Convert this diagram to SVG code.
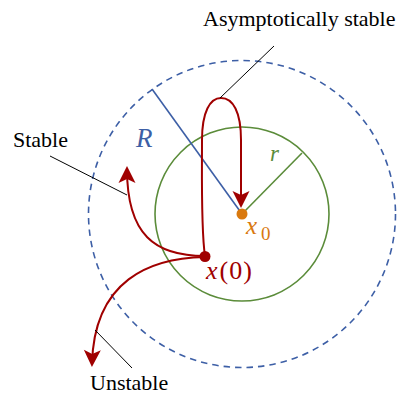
<svg xmlns="http://www.w3.org/2000/svg" width="405" height="394" viewBox="0 0 405 394">
<style>
.traj{fill:none;stroke:#a00000;stroke-width:2}
.lead{fill:none;stroke:#000;stroke-width:1}
.lbl{font-family:'Liberation Serif',serif;font-size:22px;fill:#000}
.m{font-family:'Liberation Serif',serif;font-style:italic}
.n{font-family:'Liberation Serif',serif;font-style:normal}
</style>
<defs>
<marker id="arr" markerUnits="userSpaceOnUse" markerWidth="40" markerHeight="40" refX="0" refY="0" orient="auto" overflow="visible">
<path d="M3,0 L-14,-8.5 L-10,0 L-14,8.5 Z" fill="#a00000"/>
</marker>
</defs>
<rect width="405" height="394" fill="#fff"/>
<g id="outer-ball">
<circle cx="242" cy="214" r="153.5" fill="none" stroke="#3d5fa6" stroke-width="1.6" stroke-dasharray="6.5 5"/>
</g>
<g id="inner-ball">
<circle cx="242" cy="214" r="87" fill="none" stroke="#5b8c3a" stroke-width="1.6"/>
</g>
<g id="connectors">
<line x1="152" y1="89" x2="242" y2="214" stroke="#3d5fa6" stroke-width="1.6"/>
<line x1="242" y1="214" x2="302" y2="153" stroke="#5b8c3a" stroke-width="1.6"/>
<path class="traj" d="M205,256 C201,230 202,180 202,140 C202,112 210,98 221,98 C233,98 241,112 241,140 L241,205" marker-end="url(#arr)"/>
<path class="traj" d="M205,256 C155,256 127,235 127,169" marker-end="url(#arr)"/>
<path class="traj" d="M205,257 C150,258 94,280 92,364" marker-end="url(#arr)"/>
<line class="lead" x1="220" y1="98" x2="274" y2="46"/>
<line class="lead" x1="50" y1="156" x2="127" y2="195"/>
<line class="lead" x1="95" y1="330" x2="132" y2="368"/>
</g>
<g id="x0">
<circle cx="242" cy="214" r="5.5" fill="#d9790f"/>
<text class="m" x="246" y="234" font-size="25" fill="#d9790f">x</text>
<text class="n" x="261" y="240" font-size="19" fill="#d9790f">0</text>
</g>
<g id="x-init">
<circle cx="205" cy="256.5" r="5.5" fill="#a00000"/>
<text x="206" y="279" font-size="26" fill="#a00000"><tspan class="m">x</tspan><tspan class="n" dx="2" letter-spacing="1">(0)</tspan></text>
</g>
<g id="label-R">
<text class="m" x="136" y="147" font-size="27" fill="#3d5fa6">R</text>
</g>
<g id="label-r">
<text class="m" x="270" y="161" font-size="23" fill="#5b8c3a">r</text>
</g>
<g id="label-asym">
<text class="lbl" x="203" y="26">Asymptotically stable</text>
</g>
<g id="label-stable">
<text class="lbl" x="13" y="147">Stable</text>
</g>
<g id="label-unstable">
<text class="lbl" x="90" y="390">Unstable</text>
</g>
</svg>
